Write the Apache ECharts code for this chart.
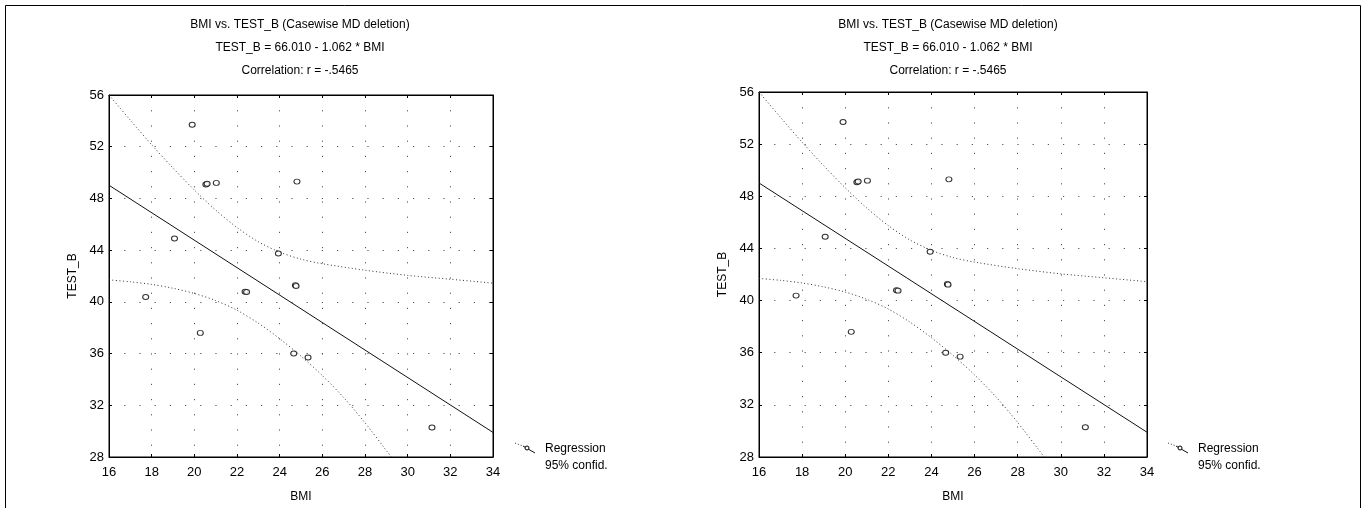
<!DOCTYPE html>
<html><head><meta charset="utf-8">
<script src="https://cdn.jsdelivr.net/npm/echarts@6/dist/echarts.min.js"></script>
<style>html,body{margin:0;padding:0;background:#fff}#c{width:1369px;height:508px}</style>
</head><body><div id="c"></div>
<script>
// ---- data ----
const titleLines = ['BMI vs. TEST_B (Casewise MD deletion)', 'TEST_B = 66.010 - 1.062 * BMI', 'Correlation: r = -.5465'];
const xName = 'BMI';
const yName = 'TEST_B';
const legendLabels = ['Regression', '95% confid.'];
// observed cases
const bmi   = [19.90, 20.54, 20.60, 21.03, 24.81, 19.07, 23.94, 24.74, 24.77, 22.38, 22.45, 17.72, 20.28, 24.66, 25.33, 31.14];
const testB = [53.70, 49.08, 49.14, 49.20, 49.30, 44.90, 43.74, 41.28, 41.22, 40.79, 40.76, 40.38, 37.60, 36.00, 35.70, 30.28];
// regression line end points
const regX = [16, 34];
const regY = [49.02, 29.90];
// 95% confidence band
const upX = [16, 17, 18, 19, 20, 21, 22, 23, 24, 25, 26, 28, 30, 32, 34];
const upY = [56.0, 54.05, 52.15, 50.35, 48.65, 47.1, 45.75, 44.65, 43.85, 43.3, 42.95, 42.45, 42.05, 41.75, 41.45];
const loX = [16, 17, 18, 19, 20, 21, 22, 23, 24, 25, 26, 27, 28, 29, 29.6];
const loY = [41.7, 41.55, 41.35, 41.05, 40.65, 40.1, 39.35, 38.35, 37.15, 35.8, 34.3, 32.6, 30.65, 28.5, 27.2];
const xMin = 16, xMax = 34, xStep = 2;
const yMin = 28, yMax = 56, yStep = 4;

const zip = (a, b) => a.map((v, i) => [v, b[i]]);
const FONT = '"Liberation Sans", Arial, sans-serif';
const grids = [
  {left: 109, top: 95, width: 384, height: 362, titleX: 295, legX: 515},
  {left: 759, top: 92, width: 388, height: 365, titleX: 943, legX: 1168}
];
const dotGrid = {show: true, lineStyle: {color: '#555', width: 1, type: [1.2, 14]}};

const option = {
  animation: false,
  backgroundColor: '#fff',
  title: grids.map(g => ({
    text: titleLines.join('\n'), left: g.titleX, top: 8, textAlign: 'center',
    textStyle: {fontFamily: FONT, fontSize: 12, fontWeight: 'normal', color: '#000', lineHeight: 23}
  })),
  grid: grids.map(g => ({left: g.left, top: g.top, width: g.width, height: g.height,
    show: true, borderColor: '#000', borderWidth: 1, backgroundColor: 'transparent'})),
  xAxis: [],
  yAxis: [],
  series: [],
  graphic: []
};

grids.forEach((g, gi) => {
  option.xAxis.push({type: 'value', gridIndex: gi, min: xMin, max: xMax, interval: xStep,
    name: xName, nameLocation: 'middle', nameGap: 34,
    nameTextStyle: {fontFamily: FONT, fontSize: 12, color: '#000'},
    axisLine: {lineStyle: {color: '#000'}}, axisTick: {inside: true, length: 3, lineStyle: {color: '#000'}},
    axisLabel: {fontFamily: FONT, fontSize: 13, color: '#000', margin: 9},
    splitLine: dotGrid});
  option.yAxis.push({type: 'value', gridIndex: gi, min: yMin, max: yMax, interval: yStep,
    name: yName, nameLocation: 'middle', nameGap: 30, nameRotate: 90,
    nameTextStyle: {fontFamily: FONT, fontSize: 12, color: '#000'},
    axisLine: {lineStyle: {color: '#000'}}, axisTick: {inside: true, length: 3, lineStyle: {color: '#000'}},
    axisLabel: {fontFamily: FONT, fontSize: 13, color: '#000', margin: 5},
    splitLine: dotGrid});
});
grids.forEach((g, gi) => {
  option.xAxis.push({type: 'value', gridIndex: gi, position: 'top', min: xMin, max: xMax, interval: xStep,
    axisLine: {lineStyle: {color: '#000'}}, axisTick: {inside: true, length: 3, lineStyle: {color: '#000'}},
    axisLabel: {show: false}, splitLine: {show: false}});
  option.yAxis.push({type: 'value', gridIndex: gi, position: 'right', min: yMin, max: yMax, interval: yStep,
    axisLine: {lineStyle: {color: '#000'}}, axisTick: {inside: true, length: 3, lineStyle: {color: '#000'}},
    axisLabel: {show: false}, splitLine: {show: false}});

  const band = {color: '#333', width: 1, type: [1, 2.5]};
  option.series.push(
    {type: 'line', xAxisIndex: gi, yAxisIndex: gi, data: zip(upX, upY), smooth: 0.3, showSymbol: false,
     lineStyle: band, clip: true, silent: true, z: 2},
    {type: 'line', xAxisIndex: gi, yAxisIndex: gi, data: zip(loX, loY), smooth: 0.3, showSymbol: false,
     lineStyle: band, clip: true, silent: true, z: 2},
    {type: 'line', xAxisIndex: gi, yAxisIndex: gi, data: zip(regX, regY), showSymbol: false,
     lineStyle: {color: '#111', width: 1}, silent: true, z: 3},
    {type: 'scatter', xAxisIndex: gi, yAxisIndex: gi, data: zip(bmi, testB), symbol: 'circle',
     symbolSize: [6, 5], itemStyle: {color: '#fff', borderColor: '#000', borderWidth: 1}, z: 4}
  );

  const ly = 443;
  option.graphic.push(
    {type: 'polyline', shape: {points: [[g.legX, ly], [g.legX + 8, ly + 3]]},
     style: {stroke: '#333', lineWidth: 1, lineDash: [1, 2], fill: null}},
    {type: 'polyline', shape: {points: [[g.legX + 8, ly + 3], [g.legX + 20, ly + 10]]},
     style: {stroke: '#111', lineWidth: 1, fill: null}},
    {type: 'circle', shape: {cx: g.legX + 12, cy: ly + 5, r: 2}, style: {stroke: '#000', fill: '#fff', lineWidth: 1}},
    {type: 'text', left: g.legX + 30, top: 443, style: {text: legendLabels[0], font: '12px ' + FONT, fill: '#000'}},
    {type: 'text', left: g.legX + 30, top: 460, style: {text: legendLabels[1], font: '12px ' + FONT, fill: '#000'}}
  );
});
option.graphic.push({type: 'rect', shape: {x: 5.5, y: 5.5, width: 1355, height: 600},
  style: {stroke: '#000', fill: null, lineWidth: 1}, silent: true, z: -1});

const chart = echarts.init(document.getElementById('c'), null, {renderer: 'canvas'});
chart.setOption(option);
</script></body></html>
